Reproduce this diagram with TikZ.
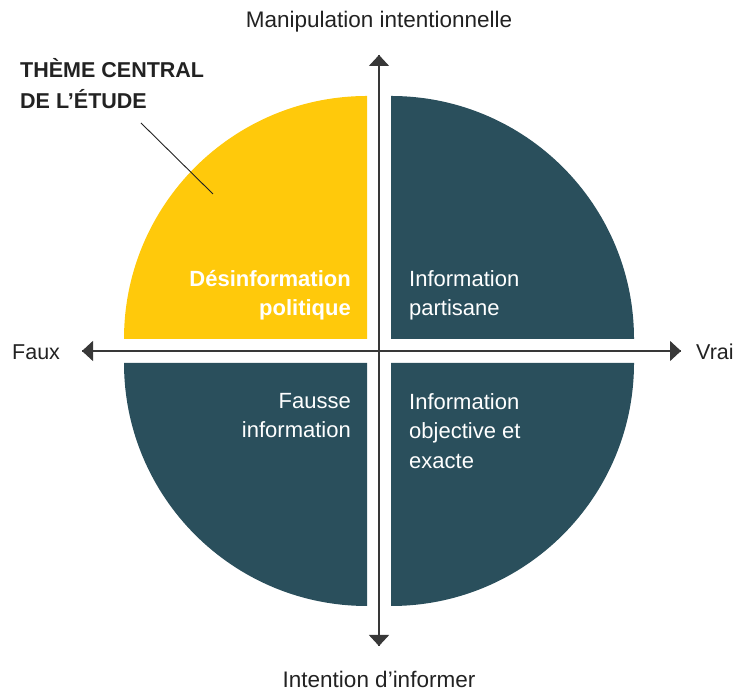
\documentclass[tikz,border=0pt]{standalone}
\usepackage{fontspec}
\setmainfont{Liberation Sans}
\usetikzlibrary{arrows.meta}
\definecolor{qyellow}{HTML}{FFC90B}
\definecolor{qteal}{HTML}{2A4F5C}
\definecolor{ink}{HTML}{222222}
\begin{document}
\begin{tikzpicture}[x=1pt,y=1pt,
  quad/.style={fill=qteal,draw=none},
  quadhi/.style={fill=qyellow,draw=none},
  axis/.style={draw=ink!90,line width=1.4pt,-{Triangle[length=11pt,width=20pt]}},
  lbl/.style={font=\fontsize{22.5}{29.5}\selectfont,text=ink,inner sep=0pt},
  qlbl/.style={font=\fontsize{22}{29.5}\selectfont,text=white,inner sep=0pt},
  callout/.style={font=\fontsize{21.5}{31}\selectfont\bfseries,text=ink,inner sep=0pt,align=left}
]
\useasboundingbox (0,0) rectangle (735,692);
% quadrants
\path[quadhi] (367,353) -- (124,353) arc[start angle=180,end angle=90,radius=243] -- cycle;
\path[quad] (391,353) -- (391,596) arc[start angle=90,end angle=0,radius=243] -- cycle;
\path[quad] (367,329) -- (367,86) arc[start angle=270,end angle=180,radius=243] -- cycle;
\path[quad] (391,329) -- (634,329) arc[start angle=0,end angle=-90,radius=243] -- cycle;
% axes
\coordinate (ctr) at (379,341);
\coordinate (top) at (379,637);
\coordinate (bot) at (379,46);
\coordinate (lft) at (82,341);
\coordinate (rgt) at (681,341);
\draw[axis] (bot) -- (top);
\draw[axis] (top) -- (bot);
\draw[axis] (rgt) -- (lft);
\draw[axis] (lft) -- (rgt);
% axis labels
\node[lbl,anchor=base] (manip) at (379,664) {Manipulation intentionnelle};
\node[lbl,anchor=base] (intent) at (379,4) {Intention d’informer};
\node[lbl,anchor=base west,font=\fontsize{21.5}{29.5}\selectfont] (faux) at (12,332) {Faux};
\node[lbl,anchor=base west,font=\fontsize{21.5}{29.5}\selectfont] (vrai) at (696,332) {Vrai};
% quadrant labels
\node[qlbl,anchor=north east,align=right,font=\fontsize{22}{29.5}\selectfont\bfseries] (desinfo) at (351,422) {Désinformation\\politique};
\node[qlbl,anchor=north west,align=left] (partisan) at (409,422) {Information\\partisane};
\node[qlbl,anchor=north east,align=right] (fausse) at (351,299) {Fausse\\information};
\node[qlbl,anchor=north west,align=left] (objective) at (409,299) {Information\\objective et\\exacte};
% callout
\node[callout,anchor=north west] (theme) at (20,634) {THÈME CENTRAL\\DE L’ÉTUDE};
\coordinate (pt) at (213,498);
\coordinate (ls) at (141,569);
\draw[ink,line width=0.9pt] (ls) -- (pt);
\end{tikzpicture}
\end{document}
